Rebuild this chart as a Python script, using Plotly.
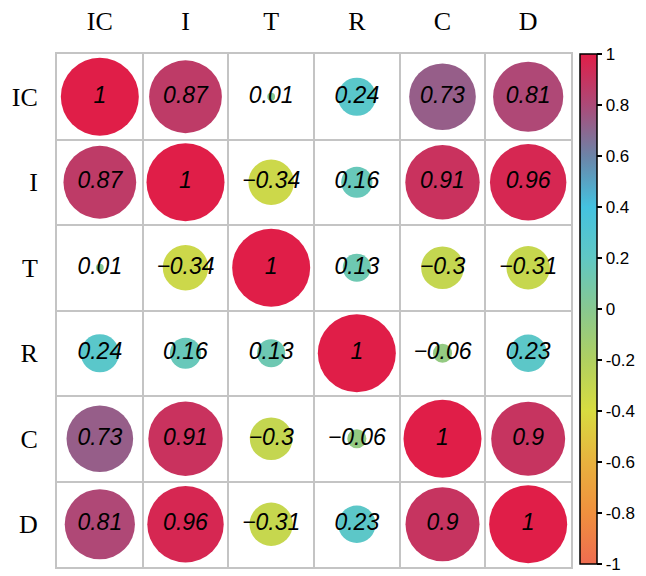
import math
import plotly.graph_objects as go

# ---- data ----
labels = ["IC", "I", "T", "R", "C", "D"]
corr = [
    [1.00, 0.87, 0.01, 0.24, 0.73, 0.81],
    [0.87, 1.00, -0.34, 0.16, 0.91, 0.96],
    [0.01, -0.34, 1.00, 0.13, -0.30, -0.31],
    [0.24, 0.16, 0.13, 1.00, -0.06, 0.23],
    [0.73, 0.91, -0.30, -0.06, 1.00, 0.90],
    [0.81, 0.96, -0.31, 0.23, 0.90, 1.00],
]
cbar_ticks = [-1, -0.8, -0.6, -0.4, -0.2, 0, 0.2, 0.4, 0.6, 0.8, 1]

colorscale = [
    [0.00, "#EE6C50"],
    [0.10, "#F0903E"],
    [0.20, "#E8B23E"],
    [0.30, "#D8DC40"],
    [0.40, "#B0D060"],
    [0.50, "#88C890"],
    [0.60, "#60C8C4"],
    [0.70, "#44C2E0"],
    [0.80, "#6C84A8"],
    [0.90, "#AC4A78"],
    [1.00, "#E01E48"],
]

n = len(labels)
xs, ys, vals, sizes, texts = [], [], [], [], []
for i in range(n):
    for j in range(n):
        v = corr[i][j]
        xs.append(j)
        ys.append(i)
        vals.append(v)
        sizes.append(78 * math.sqrt(abs(v)))
        texts.append(f"{v:g}".replace("-", "\u2212"))

fig = go.Figure(
    go.Scatter(
        x=xs,
        y=ys,
        mode="markers+text",
        text=texts,
        textposition="middle center",
        textfont=dict(family="Arial, Liberation Sans", size=23, color="black", style="italic"),
        marker=dict(
            size=sizes,
            sizemode="diameter",
            color=vals,
            colorscale=colorscale,
            cmin=-1,
            cmax=1,
            opacity=1,
            line=dict(width=0),
            showscale=True,
            colorbar=dict(
                x=1.0175,
                xanchor="left",
                y=1,
                yanchor="top",
                lenmode="pixels",
                len=510,
                thickness=17,
                xpad=0,
                ypad=0,
                outlinecolor="black",
                outlinewidth=1.5,
                tickvals=cbar_ticks,
                ticktext=[f"{t:g}" for t in cbar_ticks],
                ticks="outside",
                ticklen=5,
                tickwidth=1.5,
                tickcolor="black",
                tickfont=dict(family="Arial, Liberation Sans", size=17, color="black"),
            ),
        ),
        hoverinfo="skip",
    )
)

bounds = [k - 0.5 for k in range(n + 1)]
grid_color = "#C4C4C4"

axis_common = dict(
    tickvals=list(range(n)),
    ticktext=labels,
    ticks="",
    showgrid=False,
    zeroline=False,
    showline=True,
    mirror=True,
    linecolor=grid_color,
    linewidth=2,
    minor=dict(tickvals=bounds, showgrid=True, gridcolor=grid_color, gridwidth=2, ticks=""),
    tickfont=dict(family="Liberation Serif, Times New Roman", size=26, color="black"),
    ticklabelstandoff=12,
    fixedrange=True,
)
fig.update_xaxes(range=[-0.5, n - 0.5], side="top", **axis_common)
fig.update_yaxes(range=[n - 0.5, -0.5], **axis_common)

fig.update_layout(
    width=646,
    height=576,
    margin=dict(l=57, r=75, t=53, b=7),
    paper_bgcolor="white",
    plot_bgcolor="white",
    showlegend=False,
)

fig.write_html(
    "out.html",
    config={"displayModeBar": False},
    post_script="document.body.style.margin='0';document.body.style.overflow='hidden';",
)
